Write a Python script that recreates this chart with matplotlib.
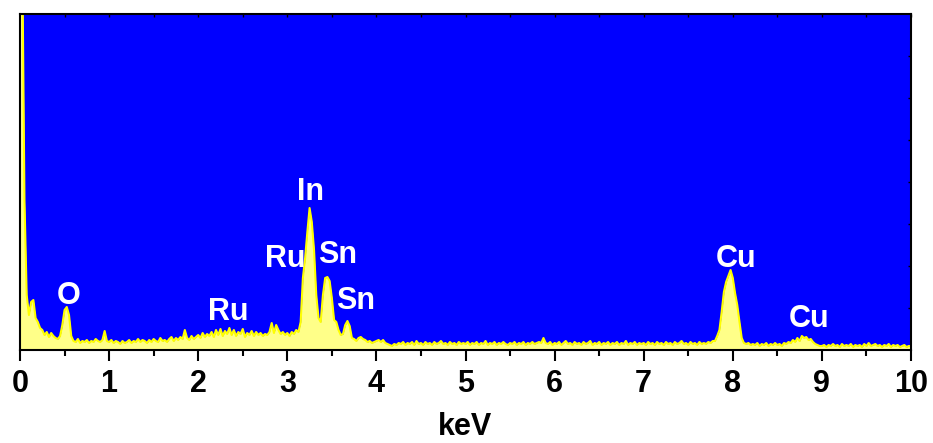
import numpy as np
import matplotlib
matplotlib.use("Agg")
import matplotlib.pyplot as plt
from matplotlib.ticker import MultipleLocator

plt.rcParams['font.family'] = ['Liberation Sans', 'DejaVu Sans']
plt.rcParams['font.weight'] = 'bold'

# energy grid (keV), 0.025 keV channels
energy = np.round(np.arange(0, 10.0001, 0.025), 3)

# counts (arbitrary units), one row per keV
counts = [
    # 0.000 - 0.975
    400, 400, 150, 55, 35, 48, 50, 32, 28, 22, 20, 15, 18, 13, 17, 14, 12, 11, 14, 25,
    40, 43, 35, 14, 9, 8, 11, 7, 9, 8, 10, 7, 9, 8, 11, 9, 8, 10, 19, 9,
    # 1.000 - 1.975
    8, 10, 7, 9, 8, 6, 9, 7, 8, 10, 7, 9, 8, 11, 8, 10, 9, 7, 10, 8,
    11, 9, 8, 12, 9, 10, 8, 11, 13, 9, 12, 10, 13, 11, 20, 12, 10, 14, 11, 13,
    # 2.000 - 2.975
    15, 12, 17, 13, 16, 14, 18, 13, 20, 15, 21, 14, 19, 16, 22, 15, 20, 14, 18, 16,
    21, 13, 17, 15, 19, 14, 18, 15, 17, 14, 16, 15, 18, 27, 17, 25, 20, 16, 18, 15,
    # 3.000 - 3.975
    17, 14, 18, 16, 20, 18, 28, 72, 92, 118, 142, 128, 100, 55, 32, 28, 55, 72, 73, 69,
    52, 30, 28, 20, 15, 16, 25, 29, 24, 12, 11, 9, 12, 13, 11, 10, 8, 9, 7, 8,
    # 4.000 - 4.975
    9, 10, 8, 10, 7, 6, 5, 4, 6, 5, 7, 6, 8, 5, 7, 6, 8, 5, 9, 6,
    7, 5, 8, 6, 7, 5, 8, 6, 7, 9, 6, 7, 5, 8, 6, 7, 5, 8, 6, 7,
    # 5.000 - 5.975
    6, 8, 5, 7, 6, 8, 5, 7, 6, 9, 5, 7, 6, 8, 5, 7, 6, 8, 6, 5,
    7, 6, 8, 5, 7, 6, 8, 5, 7, 6, 8, 6, 7, 8, 7, 12, 7, 6, 8, 5,
    # 6.000 - 6.975
    7, 6, 8, 5, 7, 9, 6, 7, 5, 8, 6, 7, 5, 8, 6, 7, 9, 5, 7, 6,
    8, 5, 7, 6, 8, 5, 7, 6, 8, 5, 7, 6, 9, 5, 7, 6, 8, 5, 7, 6,
    # 7.000 - 7.975
    7, 5, 8, 6, 7, 5, 8, 6, 7, 5, 8, 6, 7, 5, 8, 6, 7, 9, 6, 7,
    5, 8, 6, 7, 5, 8, 6, 7, 6, 8, 7, 9, 9, 14, 20, 38, 58, 68, 74, 80,
    # 8.000 - 8.975
    72, 57, 45, 28, 12, 7, 6, 7, 5, 6, 5, 7, 4, 6, 5, 7, 4, 6, 5, 7,
    5, 6, 4, 7, 6, 8, 7, 10, 8, 12, 9, 14, 12, 13, 10, 11, 8, 6, 5, 4,
    # 9.000 - 10.000
    4, 5, 3, 5, 4, 6, 4, 5, 3, 6, 4, 5, 4, 6, 3, 5, 4, 5, 3, 6,
    4, 7, 4, 5, 6, 4, 5, 3, 5, 4, 6, 3, 5, 4, 5, 3, 4, 5, 3, 4,
    4,
]

# peak labels: (text, keV, baseline height)
label_text = ['O', 'Ru', 'Ru', 'In', 'Sn', 'Sn', 'Cu', 'Cu']
label_x = [0.544, 2.334, 2.974, 3.260, 3.563, 3.771, 8.036, 8.855]
label_y = [46, 30, 83, 150, 87, 41, 83, 23]

x_ticks = list(range(0, 11))

fig = plt.figure(figsize=(9.33, 4.43), dpi=100)
ax = fig.add_axes([20 / 933, 93 / 443, 891 / 933, 336 / 443])
ax.set_facecolor('#0000FF')

ax.fill_between(energy, 0, counts, color='#FFFF88', linewidth=0, zorder=2)
ax.plot(energy, counts, color='#FFFF00', linewidth=1.5, zorder=3)

for t, lx, ly in zip(label_text, label_x, label_y):
    ax.text(lx, ly, t, color='white', fontsize=22, fontweight='bold',
            ha='center', va='baseline', zorder=4)

ax.set_xlim(0, 10)
ax.set_ylim(0, 336)

for s in ax.spines.values():
    s.set_linewidth(1.5)
    s.set_color('black')
    s.set_zorder(5)

ax.set_xticks(x_ticks)
ax.set_xticklabels([str(v) for v in x_ticks])
ax.xaxis.set_minor_locator(MultipleLocator(0.5))
ax.tick_params(axis='x', which='major', direction='out', length=8, width=1.5,
               labelsize=22, pad=6, top=False)
ax.tick_params(axis='x', which='minor', direction='out', length=4.5, width=1.5,
               top=False)
for lbl in ax.get_xticklabels():
    lbl.set_fontweight('bold')

# top ticks (inward) via secondary axis
top = ax.secondary_xaxis('top')
top.set_xticks(np.arange(0, 10.01, 0.5))
top.tick_params(direction='in', length=2.5, width=1, labeltop=False)
top.spines['top'].set_visible(False)

ax.set_yticks([])
right = ax.secondary_yaxis('right')
right.set_yticks(np.arange(42, 336, 42))
right.tick_params(direction='in', length=2.5, width=1, labelright=False)
right.spines['right'].set_visible(False)

ax.set_xlabel('keV', fontsize=22, fontweight='bold', labelpad=9)

fig.savefig('out.png', dpi=100)
